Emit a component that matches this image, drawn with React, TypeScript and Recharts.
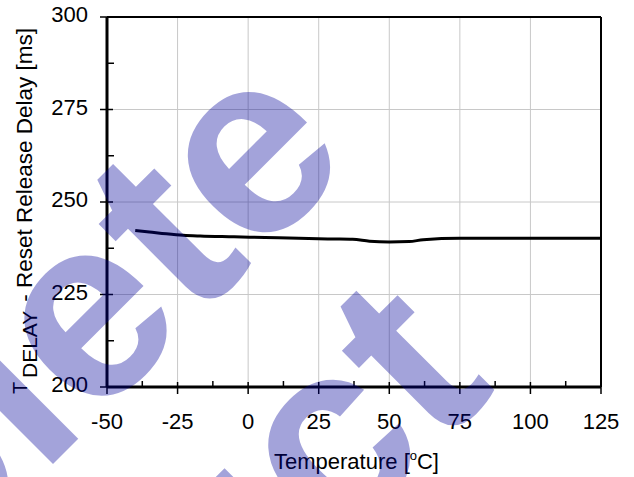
import React from 'react';
import { LineChart, Line, XAxis, YAxis, CartesianGrid, ReferenceLine } from 'recharts';

const temperatures = [-40, -35, -29, -23, -17, -5, 6, 18, 30, 37, 43, 50, 57, 62, 75, 100, 125];
const delays = [242.3, 241.9, 241.4, 241.0, 240.8, 240.6, 240.4, 240.2, 240.0, 239.9, 239.4, 239.2, 239.3, 239.8, 240.2, 240.2, 240.2];

const xMajorTicks = [-50, -25, 0, 25, 50, 75, 100, 125];
const xMinorTicks = [-37.5, -12.5, 12.5, 37.5, 62.5, 87.5, 112.5];
const yMajorTicks = [200, 225, 250, 275, 300];
const yMinorTicks = [212.5, 237.5, 262.5, 287.5];
const xGridValues = [-25, 0, 25, 50, 75, 100];
const yGridValues = [225, 250, 275];

const xTitle = 'Temperature [';
const xTitleSup = 'o';
const xTitleEnd = 'C]';
const yTitleT = 'T';
const yTitleSub = 'DELAY';
const yTitleRest = ' - Reset Release Delay [ms]';

const watermarkLines = ['Obsolete', 'Product'];

const data = temperatures.map((t, i) => ({ t, v: delays[i] }));

const FONT = '"Liberation Sans", Arial, Helvetica, sans-serif';

const XTick = (props: any) => {
  const { x, y, payload } = props;
  const major = xMajorTicks.includes(payload.value);
  return (
    <g>
      <line x1={x} x2={x} y1={y - (major ? 5 : 6)} y2={y + (major ? 7 : 0)} stroke="#000" strokeWidth={1.5} />
      {major && (
        <text x={x} y={y + 41.5} textAnchor="middle" fontSize={22} fontFamily={FONT} fill="#000">
          {payload.value}
        </text>
      )}
    </g>
  );
};

const YTick = (props: any) => {
  const { x, y, payload } = props;
  const major = yMajorTicks.includes(payload.value);
  return (
    <g>
      <line x1={x - (major ? 7 : 0)} x2={x + (major ? 6 : 7)} y1={y} y2={y} stroke="#000" strokeWidth={1.5} />
      {major && (
        <text x={x - 19} y={y + 5} textAnchor="end" fontSize={22} fontFamily={FONT} fill="#000">
          {payload.value}
        </text>
      )}
    </g>
  );
};

const XTitle = (props: any) => {
  const vb = props.viewBox || { x: 107, y: 387, width: 494, height: 90 };
  const cx = vb.x + vb.width / 2 + 2.5;
  return (
    <text x={cx} y={vb.y + 82} textAnchor="middle" fontSize={22} fontFamily={FONT} fill="#000">
      <tspan>{xTitle}</tspan>
      <tspan fontSize={13} dy={-9}>{xTitleSup}</tspan>
      <tspan fontSize={22} dy={9}>{xTitleEnd}</tspan>
    </text>
  );
};

const YTitle = (props: any) => {
  const vb = props.viewBox || { x: 0, y: 17, width: 107, height: 370 };
  const bx = vb.x + 31.5;
  const by = vb.y + vb.height + 7;
  return (
    <g transform={`translate(${bx}, ${by}) rotate(-90)`}>
      <text fontFamily={FONT} fill="#000">
        <tspan x={0} y={-5} fontSize={20}>{yTitleT}</tspan>
        <tspan x={16} y={5} fontSize={21}>{yTitleSub}</tspan>
        <tspan x={86} y={0} fontSize={22.5}>{yTitleRest}</tspan>
      </text>
    </g>
  );
};

const Watermark = () => {
  const anchors = [
    { x: 357, y: 160 },
    { x: 498, y: 389 },
  ];
  return (
    <svg
      width={634}
      height={477}
      style={{ position: 'absolute', left: 0, top: 0, pointerEvents: 'none', overflow: 'hidden' }}
    >
      {watermarkLines.map((w, i) => (
        <text
          key={w}
          x={anchors[i].x}
          y={anchors[i].y}
          transform={`rotate(-45 ${anchors[i].x} ${anchors[i].y})`}
          textAnchor="end"
          fontFamily={FONT}
          fontWeight="bold"
          fontSize={260}
          fill="#000099"
          fillOpacity={0.36}
        >
          {w}
        </text>
      ))}
    </svg>
  );
};

export default function App() {
  return (
    <div style={{ position: 'absolute', left: 0, top: 0, width: 634, height: 477, overflow: 'hidden' }}>
      <LineChart width={634} height={477} data={data} margin={{ top: 17, right: 33, left: 0, bottom: 0 }}>
        <CartesianGrid
          stroke="#c8c8c8"
          strokeWidth={1}
          verticalValues={xGridValues}
          horizontalValues={yGridValues}
        />
        <XAxis
          dataKey="t"
          type="number"
          domain={[-50, 125]}
          ticks={[...xMajorTicks, ...xMinorTicks].sort((a, b) => a - b)}
          interval={0}
          tick={<XTick />}
          tickLine={false}
          tickSize={0}
          tickMargin={0}
          height={90}
          axisLine={{ stroke: '#000', strokeWidth: 3 }}
          allowDataOverflow
          label={<XTitle />}
        />
        <YAxis
          type="number"
          domain={[200, 300]}
          ticks={[...yMajorTicks, ...yMinorTicks].sort((a, b) => a - b)}
          interval={0}
          tick={<YTick />}
          tickLine={false}
          tickSize={0}
          tickMargin={0}
          width={107}
          axisLine={{ stroke: '#000', strokeWidth: 3 }}
          allowDataOverflow
          label={<YTitle />}
        />
        <ReferenceLine y={300} stroke="#000" strokeWidth={2} />
        <ReferenceLine x={125} stroke="#000" strokeWidth={2} />
        <Line
          type="monotone"
          dataKey="v"
          stroke="#000"
          strokeWidth={3}
          dot={false}
          isAnimationActive={false}
        />
      </LineChart>
      <Watermark />
    </div>
  );
}
